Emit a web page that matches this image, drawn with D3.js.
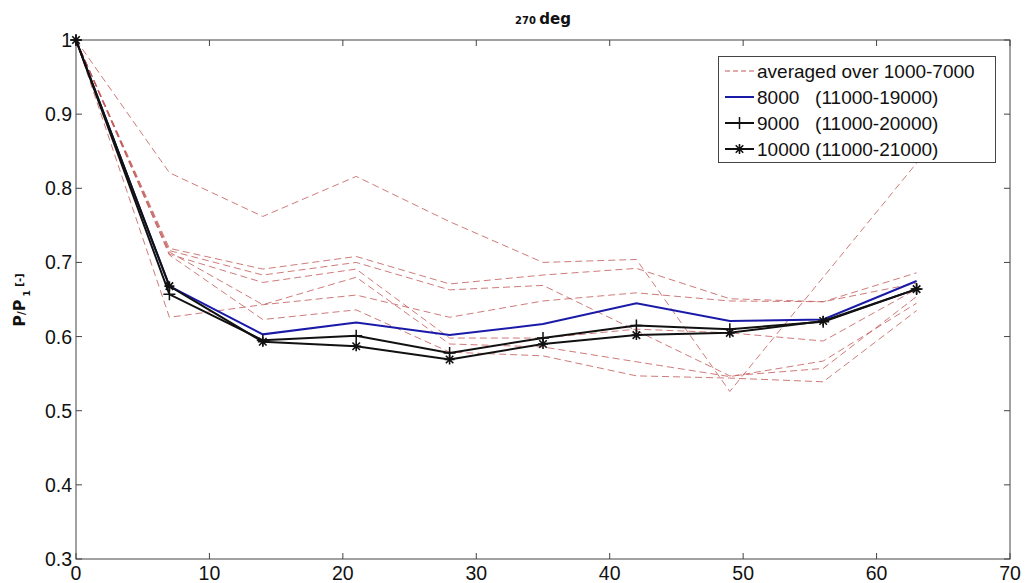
<!DOCTYPE html>
<html>
<head>
<meta charset="utf-8">
<script src="https://cdn.jsdelivr.net/npm/d3@7"></script>
<style>
  body { margin: 0; background: #fff; }
  svg { display: block; font-family: "Liberation Sans", Arial, sans-serif; }
</style>
</head>
<body>
<svg id="chart" width="1026" height="583"></svg>
<script>
/* values */
var angles = [0, 7, 14, 21, 28, 35, 42, 49, 56, 63];

// averaged runs (1000-7000), dashed red
var avgRun1 = [1, 0.821, 0.762, 0.816, 0.755, 0.700, 0.704, 0.526, 0.680, 0.834];
var avgRun2 = [1, 0.719, 0.691, 0.708, 0.671, 0.683, 0.692, 0.651, 0.647, 0.686];
var avgRun3 = [1, 0.716, 0.683, 0.700, 0.663, 0.669, 0.608, 0.547, 0.557, 0.654];
var avgRun4 = [1, 0.711, 0.673, 0.691, 0.598, 0.598, 0.610, 0.605, 0.594, 0.664];
var avgRun5 = [1, 0.714, 0.643, 0.680, 0.590, 0.586, 0.566, 0.546, 0.567, 0.645];
var avgRun6 = [1, 0.626, 0.643, 0.656, 0.626, 0.648, 0.659, 0.648, 0.647, 0.672];
var avgRun7 = [1, 0.710, 0.623, 0.636, 0.579, 0.574, 0.547, 0.544, 0.539, 0.635];

var run8000  = [1, 0.668, 0.603, 0.619, 0.602, 0.617, 0.645, 0.621, 0.623, 0.675];
var run9000  = [1, 0.657, 0.595, 0.601, 0.578, 0.598, 0.615, 0.610, 0.620, 0.664];
var run10000 = [1, 0.668, 0.593, 0.587, 0.569, 0.590, 0.602, 0.605, 0.621, 0.664];

var xTicks = [0, 10, 20, 30, 40, 50, 60, 70];
var yTicks = [0.3, 0.4, 0.5, 0.6, 0.7, 0.8, 0.9, 1];
var legendLabels = ["averaged over 1000-7000", "8000   (11000-19000)", "9000   (11000-20000)", "10000 (11000-21000)"];

var svg = d3.select("#chart");
var plotL = 76, plotR = 1010, plotT = 40, plotB = 559;
var axisColor = "#444";
var dashColor = "#c25a58";

var x = d3.scaleLinear().domain([0, 70]).range([plotL, plotR]);
var y = d3.scaleLinear().domain([0.3, 1]).range([plotB, plotT]);

// frame + inward ticks on all four sides
svg.append("rect")
  .attr("x", plotL).attr("y", plotT)
  .attr("width", plotR - plotL).attr("height", plotB - plotT)
  .attr("fill", "none").attr("stroke", axisColor).attr("stroke-width", 1);

var tickLen = 6;
xTicks.forEach(function(t){
  svg.append("line").attr("x1", x(t)).attr("x2", x(t)).attr("y1", plotB).attr("y2", plotB - tickLen).attr("stroke", axisColor);
  svg.append("line").attr("x1", x(t)).attr("x2", x(t)).attr("y1", plotT).attr("y2", plotT + tickLen).attr("stroke", axisColor);
  svg.append("text").attr("x", x(t)).attr("y", 580)
    .attr("text-anchor", "middle").attr("font-size", 19.5).attr("fill", "#111")
    .text(t);
});
yTicks.forEach(function(t){
  svg.append("line").attr("x1", plotL).attr("x2", plotL + tickLen).attr("y1", y(t)).attr("y2", y(t)).attr("stroke", axisColor);
  svg.append("line").attr("x1", plotR).attr("x2", plotR - tickLen).attr("y1", y(t)).attr("y2", y(t)).attr("stroke", axisColor);
  svg.append("text").attr("x", 72).attr("y", y(t) + 7)
    .attr("text-anchor", "end").attr("font-size", 19.5).attr("fill", "#111")
    .text(d3.format(".1~f")(t));
});

// title
var title = svg.append("text").attr("x", 543).attr("y", 24)
  .attr("text-anchor", "middle").attr("font-weight", "bold").attr("fill", "#111")
  .attr("font-family", "'DejaVu Sans', sans-serif");
title.append("tspan").attr("font-size", 10).text("270 ");
title.append("tspan").attr("font-size", 15).text("deg");

// y label
var ylab = svg.append("text")
  .attr("transform", "translate(25,300) rotate(-90)")
  .attr("text-anchor", "middle").attr("font-weight", "bold").attr("fill", "#111")
  .attr("font-family", "'DejaVu Sans', sans-serif");
ylab.append("tspan").attr("font-size", 16).text("P");
ylab.append("tspan").attr("font-size", 10).text("/");
ylab.append("tspan").attr("font-size", 16).text("P");
ylab.append("tspan").attr("font-size", 9).attr("dy", 5).text(" 1");
ylab.append("tspan").attr("font-size", 10).attr("dy", -7).text("  [-]");

var line = d3.line()
  .x(function(d, i){ return x(angles[i]); })
  .y(function(d){ return y(d); });

[avgRun1, avgRun2, avgRun3, avgRun4, avgRun5, avgRun6, avgRun7].forEach(function(s){
  svg.append("path").attr("d", line(s))
    .attr("fill", "none").attr("stroke", dashColor).attr("stroke-width", 1)
    .attr("stroke-dasharray", "7,4").attr("opacity", 0.8);
});

svg.append("path").attr("d", line(run8000))
  .attr("fill", "none").attr("stroke", "#1a1aa8").attr("stroke-width", 2);
svg.append("path").attr("d", line(run9000))
  .attr("fill", "none").attr("stroke", "#111").attr("stroke-width", 2);
svg.append("path").attr("d", line(run10000))
  .attr("fill", "none").attr("stroke", "#111").attr("stroke-width", 2);

function plusPath(cx, cy, r){
  return "M" + (cx - r) + "," + cy + "H" + (cx + r) + "M" + cx + "," + (cy - r) + "V" + (cy + r);
}
function starPath(cx, cy, r){
  var d = plusPath(cx, cy, r);
  var k = r * 0.75;
  d += "M" + (cx - k) + "," + (cy - k) + "L" + (cx + k) + "," + (cy + k);
  d += "M" + (cx - k) + "," + (cy + k) + "L" + (cx + k) + "," + (cy - k);
  return d;
}

run9000.forEach(function(v, i){
  svg.append("path").attr("d", plusPath(x(angles[i]), y(v), 6))
    .attr("stroke", "#111").attr("stroke-width", 1.5).attr("fill", "none");
});
run10000.forEach(function(v, i){
  svg.append("path").attr("d", starPath(x(angles[i]), y(v), 5))
    .attr("stroke", "#111").attr("stroke-width", 1.6).attr("fill", "none");
});

// legend
var lg = svg.append("g");
lg.append("rect").attr("x", 718.5).attr("y", 56.5).attr("width", 277).attr("height", 106)
  .attr("fill", "#fff").attr("stroke", axisColor).attr("stroke-width", 1);
var rowY = [71, 97, 123, 149];
legendLabels.forEach(function(lbl, i){
  var ly = rowY[i];
  var seg = lg.append("line").attr("x1", 725).attr("x2", 754).attr("y1", ly).attr("y2", ly);
  if (i === 0) seg.attr("stroke", dashColor).attr("stroke-dasharray", "5,3").attr("stroke-width", 1);
  else if (i === 1) seg.attr("stroke", "#1a1aa8").attr("stroke-width", 2);
  else seg.attr("stroke", "#111").attr("stroke-width", 2);
  if (i === 2) lg.append("path").attr("d", plusPath(739.5, ly, 6)).attr("stroke", "#111").attr("stroke-width", 1.5);
  if (i === 3) lg.append("path").attr("d", starPath(739.5, ly, 5)).attr("stroke", "#111").attr("stroke-width", 1.6);
  lg.append("text").attr("x", 757).attr("y", ly + 7)
    .attr("font-size", 19).attr("fill", "#111").style("white-space", "pre")
    .text(lbl);
});
</script>
</body>
</html>
